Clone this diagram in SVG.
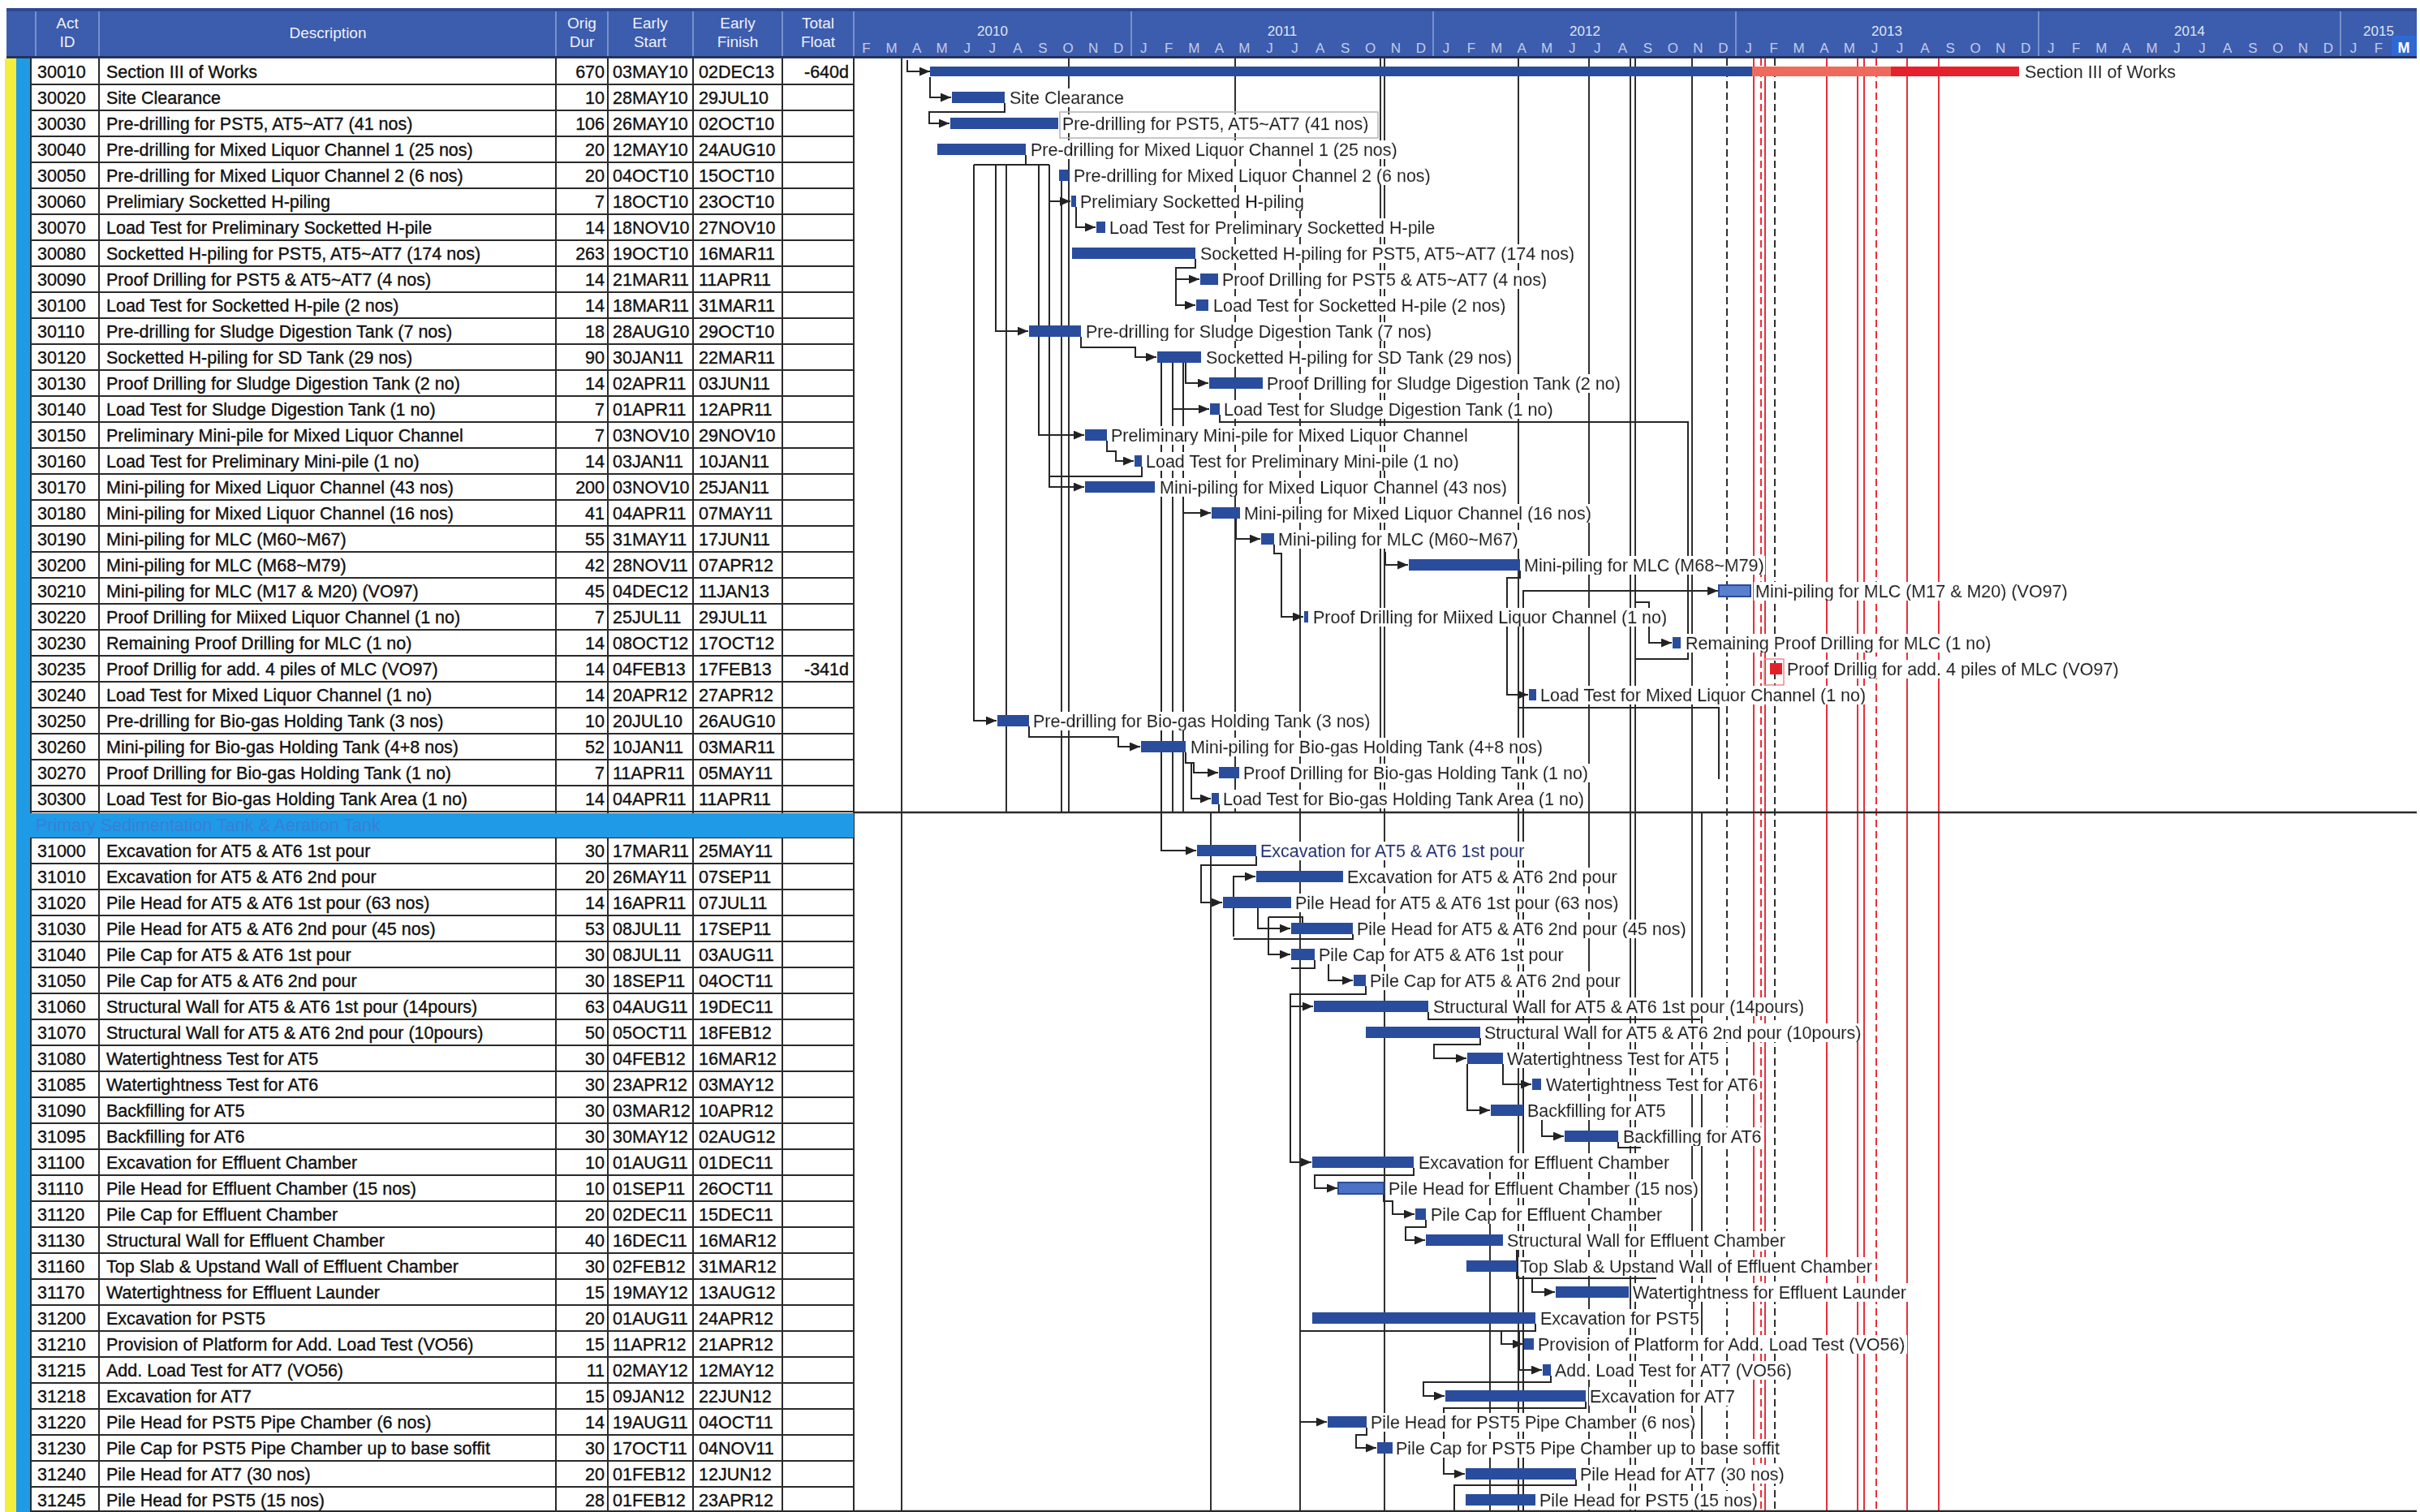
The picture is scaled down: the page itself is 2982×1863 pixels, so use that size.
<svg xmlns="http://www.w3.org/2000/svg" width="2982" height="1863" viewBox="0 0 2982 1863">
<style>
.t{font-family:"Liberation Sans",Arial,sans-serif;font-size:21.5px;fill:#101010;stroke:#101010;stroke-width:0.35px}
.e{text-anchor:end}
.lb{font-family:"Liberation Sans",Arial,sans-serif;font-size:21.5px;fill:#1a1a1a;stroke:#1a1a1a;stroke-width:0.35px;filter:url(#wb)}
.bar{fill:#2a4c9c}
.ln{stroke:#262626;stroke-width:2;fill:none}
.cn{stroke:#262626;stroke-width:2;fill:none;marker-end:url(#ah)}
.vl{stroke:#303030;stroke-width:2}
.vd{stroke:#303030;stroke-width:2;stroke-dasharray:9 5}
.rl{stroke:#e8303a;stroke-width:2}
.rd{stroke:#e8303a;stroke-width:2;stroke-dasharray:9 5}
.tl{stroke:#2a2a2a;stroke-width:2}
.hd{font-family:"Liberation Sans",Arial,sans-serif;font-size:19px;fill:#eef1fa;text-anchor:middle}
.yr{font-family:"Liberation Sans",Arial,sans-serif;font-size:17px;fill:#dfe5f5;text-anchor:middle}
.mo{font-family:"Liberation Sans",Arial,sans-serif;font-size:17px;fill:#c3cce8;text-anchor:middle}
.hs{stroke:#8ea2d6;stroke-width:1.5}
</style>
<defs>
<filter id="wb" x="-0.004" y="0.04" width="1.008" height="0.92"><feFlood flood-color="#ffffff"/><feComposite in="SourceGraphic" operator="over"/></filter>
<marker id="ah" viewBox="0 0 12 10" refX="12" refY="5" markerWidth="13" markerHeight="11" markerUnits="userSpaceOnUse" orient="auto"><path d="M0,0 L12,5 L0,10 z" fill="#222"/></marker>
</defs>
<rect x="0" y="0" width="2982" height="1863" fill="#ffffff"/>

<g id="header">
<rect x="8" y="10" width="2970" height="61" fill="#3c5cae"/>
<rect x="8" y="10" width="2970" height="4" fill="#2c4894"/>
<rect x="2947" y="44" width="31" height="27" fill="#2f68d2"/>
<line class="hs" x1="44" y1="14" x2="44" y2="70"/>
<line class="hs" x1="122" y1="14" x2="122" y2="70"/>
<line class="hs" x1="685" y1="14" x2="685" y2="70"/>
<line class="hs" x1="749" y1="14" x2="749" y2="70"/>
<line class="hs" x1="854" y1="14" x2="854" y2="70"/>
<line class="hs" x1="964" y1="14" x2="964" y2="70"/>
<line class="hs" x1="1052" y1="14" x2="1052" y2="70"/>
<line class="hs" x1="1394" y1="14" x2="1394" y2="70"/>
<line class="hs" x1="1766" y1="14" x2="1766" y2="70"/>
<line class="hs" x1="2139" y1="14" x2="2139" y2="70"/>
<line class="hs" x1="2512" y1="14" x2="2512" y2="70"/>
<line class="hs" x1="2884" y1="14" x2="2884" y2="70"/>
<text class="hd" x="83" y="35">Act</text><text class="hd" x="83" y="58">ID</text>
<text class="hd" x="404" y="47">Description</text>
<text class="hd" x="717" y="35">Orig</text><text class="hd" x="717" y="58">Dur</text>
<text class="hd" x="801" y="35">Early</text><text class="hd" x="801" y="58">Start</text>
<text class="hd" x="909" y="35">Early</text><text class="hd" x="909" y="58">Finish</text>
<text class="hd" x="1008" y="35">Total</text><text class="hd" x="1008" y="58">Float</text>
<text class="yr" x="1223" y="44">2010</text>
<text class="yr" x="1580" y="44">2011</text>
<text class="yr" x="1953" y="44">2012</text>
<text class="yr" x="2325" y="44">2013</text>
<text class="yr" x="2698" y="44">2014</text>
<text class="yr" x="2931" y="44">2015</text>
<text class="mo" y="65"><tspan x="1067.5">F</tspan><tspan x="1098.6">M</tspan><tspan x="1129.7">A</tspan><tspan x="1160.7">M</tspan><tspan x="1191.8">J</tspan><tspan x="1222.8">J</tspan><tspan x="1253.9">A</tspan><tspan x="1284.9">S</tspan><tspan x="1316">O</tspan><tspan x="1347.1">N</tspan><tspan x="1378.1">D</tspan><tspan x="1409.2">J</tspan><tspan x="1440.2">F</tspan><tspan x="1471.3">M</tspan><tspan x="1502.4">A</tspan><tspan x="1533.4">M</tspan><tspan x="1564.5">J</tspan><tspan x="1595.5">J</tspan><tspan x="1626.6">A</tspan><tspan x="1657.7">S</tspan><tspan x="1688.7">O</tspan><tspan x="1719.8">N</tspan><tspan x="1750.8">D</tspan><tspan x="1781.9">J</tspan><tspan x="1812.9">F</tspan><tspan x="1844">M</tspan><tspan x="1875.1">A</tspan><tspan x="1906.1">M</tspan><tspan x="1937.2">J</tspan><tspan x="1968.2">J</tspan><tspan x="1999.3">A</tspan><tspan x="2030.4">S</tspan><tspan x="2061.4">O</tspan><tspan x="2092.5">N</tspan><tspan x="2123.5">D</tspan><tspan x="2154.6">J</tspan><tspan x="2185.6">F</tspan><tspan x="2216.7">M</tspan><tspan x="2247.8">A</tspan><tspan x="2278.8">M</tspan><tspan x="2309.9">J</tspan><tspan x="2340.9">J</tspan><tspan x="2372">A</tspan><tspan x="2403.1">S</tspan><tspan x="2434.1">O</tspan><tspan x="2465.2">N</tspan><tspan x="2496.2">D</tspan><tspan x="2527.3">J</tspan><tspan x="2558.3">F</tspan><tspan x="2589.4">M</tspan><tspan x="2620.5">A</tspan><tspan x="2651.5">M</tspan><tspan x="2682.6">J</tspan><tspan x="2713.6">J</tspan><tspan x="2744.7">A</tspan><tspan x="2775.8">S</tspan><tspan x="2806.8">O</tspan><tspan x="2837.9">N</tspan><tspan x="2868.9">D</tspan><tspan x="2900">J</tspan><tspan x="2931">F</tspan></text>
<text x="2962" y="65" font-family="Liberation Sans, Arial, sans-serif" font-size="18" font-weight="bold" fill="#ffffff" text-anchor="middle">M</text>
<rect x="8" y="69" width="2970" height="3" fill="#22325e"/>
</g>

<g id="table-grid">
<rect x="6" y="72" width="14" height="1791" fill="#f4ee3c"/>
<rect x="20" y="72" width="18" height="1791" fill="#1f9be6"/>
<path class="tl" d="M38,104H1052M38,136H1052M38,168H1052M38,200H1052M38,232H1052M38,264H1052M38,296H1052M38,328H1052M38,360H1052M38,392H1052M38,424H1052M38,456H1052M38,488H1052M38,520H1052M38,552H1052M38,584H1052M38,616H1052M38,648H1052M38,680H1052M38,712H1052M38,744H1052M38,776H1052M38,808H1052M38,840H1052M38,872H1052M38,904H1052M38,936H1052M38,968H1052M38,1000H1052M38,1032H1052M38,1064H1052M38,1096H1052M38,1128H1052M38,1160H1052M38,1192H1052M38,1224H1052M38,1256H1052M38,1288H1052M38,1320H1052M38,1352H1052M38,1384H1052M38,1416H1052M38,1448H1052M38,1480H1052M38,1512H1052M38,1544H1052M38,1576H1052M38,1608H1052M38,1640H1052M38,1672H1052M38,1704H1052M38,1736H1052M38,1768H1052M38,1800H1052M38,1832H1052M38,1862H1052"/>
<path class="tl" d="M38,72V1863M122,72V1863M685,72V1863M749,72V1863M854,72V1863M964,72V1863M1052,72V1863"/>
</g>

<g id="timeline-lines">
<line class="vl" x1="1111" y1="72" x2="1111" y2="1863"/>
<line class="vl" x1="1240" y1="203" x2="1240" y2="1001"/>
<line class="vl" x1="1308" y1="223" x2="1308" y2="1001"/>
<line class="vl" x1="1317" y1="72" x2="1317" y2="1001"/>
<line class="vl" x1="1445" y1="504" x2="1445" y2="1001"/>
<line class="vl" x1="1458" y1="632" x2="1458" y2="1001"/>
<line class="vl" x1="1492" y1="1001" x2="1492" y2="1863"/>
<line class="vl" x1="1522" y1="72" x2="1522" y2="1001"/>
<line class="vl" x1="1602" y1="190" x2="1602" y2="1863"/>
<line class="vl" x1="1701" y1="72" x2="1701" y2="1001"/>
<line class="vl" x1="1706" y1="72" x2="1706" y2="1863"/>
<line class="vl" x1="1836" y1="1440" x2="1836" y2="1863"/>
<line class="vl" x1="1871" y1="72" x2="1871" y2="1863"/>
<line class="vl" x1="1958" y1="72" x2="1958" y2="1863"/>
<line class="vl" x1="2009" y1="72" x2="2009" y2="1863"/>
<line class="vl" x1="2015" y1="72" x2="2015" y2="1863"/>
<line class="vl" x1="2085" y1="72" x2="2085" y2="1863"/>
<line class="vl" x1="2097" y1="1001" x2="2097" y2="1863"/>
<line class="vd" x1="2128" y1="72" x2="2128" y2="1863"/>
<line class="vd" x1="2187" y1="72" x2="2187" y2="1863"/>
<line class="rl" x1="2161" y1="72" x2="2161" y2="1863" stroke-width="4"/>
<line class="rd" x1="2170" y1="72" x2="2170" y2="1863"/>
<line class="rl" x1="2175" y1="72" x2="2175" y2="1863"/>
<line class="rl" x1="2251" y1="72" x2="2251" y2="1863"/>
<line class="rl" x1="2289" y1="72" x2="2289" y2="1863" stroke="#f08a92"/>
<line class="rl" x1="2297" y1="72" x2="2297" y2="1863"/>
<line class="rd" x1="2312" y1="72" x2="2312" y2="1863"/>
<line class="rl" x1="2350" y1="72" x2="2350" y2="1863"/>
<line class="rl" x1="2389" y1="72" x2="2389" y2="1863"/>
<line x1="1052" y1="1001" x2="2978" y2="1001" stroke="#2a2a2a" stroke-width="2.5"/>
<line x1="1052" y1="1862" x2="2978" y2="1862" stroke="#2a2a2a" stroke-width="2.5"/>
</g>

<g id="connectors">
<path class="cn" d="M1118,74V88H1146"/>
<path class="cn" d="M1146,95V120H1172"/>
<path class="cn" d="M1238,127V138H1145V152H1170"/>
<path class="ln" d="M1264,191V203M1200,203H1293"/>
<path class="cn" d="M1200,203V888H1228"/>
<path class="cn" d="M1227,203V408H1267"/>
<path class="cn" d="M1280,203V536H1336"/>
<path class="cn" d="M1293,203V600H1336"/>
<path class="cn" d="M1293,248H1319"/>
<path class="cn" d="M1326,255V280H1350"/>
<path class="cn" d="M1473,319V330H1449V344H1478"/>
<path class="cn" d="M1449,344V376H1473"/>
<path class="cn" d="M1332,415V428H1399V440H1425"/>
<path class="cn" d="M1461,447V472H1489"/>
<path class="cn" d="M1445,447V504H1490"/>
<path class="cn" d="M1431,447V1048H1474"/>
<path class="cn" d="M1458,447V632H1492"/>
<path class="cn" d="M1364,543V556H1375V568H1397"/>
<path class="ln" d="M1407,575V587H1293"/>
<path class="cn" d="M1523,639V664H1553"/>
<path class="cn" d="M1707,680V696H1735"/>
<path class="cn" d="M1570,671V682H1579V760H1606"/>
<path class="cn" d="M1873,703V712H1857V856H1883"/>
<path class="cn" d="M1877,1863V728H2117"/>
<path class="cn" d="M2015,742H2032V792H2060"/>
<path class="ln" d="M1503,511V520H2080V812H2016"/>
<path class="ln" d="M1870,872H2118V960"/>
<path class="cn" d="M1268,895V908H1378V920H1405"/>
<path class="cn" d="M1461,927V940H1471V952H1501"/>
<path class="cn" d="M1468,940V984H1492"/>
<path class="ln" d="M1502,991V1001"/>
<path class="cn" d="M1520,1154V1080H1547"/>
<path class="cn" d="M1548,1055V1066H1480V1112H1506"/>
<path class="cn" d="M1550,1119V1144H1590"/>
<path class="cn" d="M1563,1130V1176H1590"/>
<path class="ln" d="M1563,1130H1605V1144"/>
<path class="ln" d="M1667,1151V1157H1520"/>
<path class="ln" d="M1620,1183V1193H1591"/>
<path class="cn" d="M1637,1185V1208H1667"/>
<path class="cn" d="M1683,1215V1225H1590V1432H1616"/>
<path class="cn" d="M1590,1240H1618"/>
<path class="ln" d="M1760,1247V1256H2095"/>
<path class="cn" d="M1824,1279V1287H1767V1304H1807"/>
<path class="cn" d="M1852,1311V1336H1887"/>
<path class="cn" d="M1808,1311V1368H1836"/>
<path class="cn" d="M1900,1377V1400H1927"/>
<path class="ln" d="M1994,1407V1414H2022"/>
<path class="cn" d="M1742,1439V1448H1620V1464H1648"/>
<path class="cn" d="M1705,1471V1480H1716V1496H1743"/>
<path class="cn" d="M1757,1503V1512H1732V1528H1756"/>
<path class="ln" d="M1869,1535V1575H2041"/>
<path class="cn" d="M1888,1575V1592H1916"/>
<path class="ln" d="M1892,1631V1640H1602"/>
<path class="cn" d="M1850,1640V1656H1877"/>
<path class="cn" d="M1872,1640V1688H1900"/>
<path class="cn" d="M1911,1695V1703H1754V1720H1780"/>
<path class="cn" d="M1954,1727V1735H1779V1816H1805"/>
<path class="cn" d="M1602,1752H1635"/>
<path class="cn" d="M1684,1759V1768H1671V1784H1696"/>
<path class="ln" d="M1942,1823V1830H1792V1863"/>
</g>

<g id="section-band">
<rect x="20" y="1002" width="1032" height="30" fill="#1e9ae6"/>
<text x="44" y="1024" font-family="Liberation Sans, Arial, sans-serif" font-size="21.5" fill="#3a7fd6">Primary Sedimentation Tank &amp; Aeration Tank</text>
</g>

<g id="a30010" transform="translate(0,88)"><text class="t" x="46" y="7.5">30010</text><text class="t" x="131" y="7.5">Section III of Works</text><text class="t e" x="745" y="7.5">670</text><text class="t" x="755" y="7.5">03MAY10</text><text class="t" x="861" y="7.5">02DEC13</text><text class="t e" x="1046" y="7.5">-640d</text><rect class="bar" x="1146" y="-6" width="1013" height="12"/><rect x="2159" y="-6" width="171" height="12" fill="#ef6a5c"/><rect x="2330" y="-6" width="158" height="12" fill="#e6202c"/><text class="lb" x="2495" y="7.5">Section III of Works</text></g>
<g id="a30020" transform="translate(0,120)"><text class="t" x="46" y="7.5">30020</text><text class="t" x="131" y="7.5">Site Clearance</text><text class="t e" x="745" y="7.5">10</text><text class="t" x="755" y="7.5">28MAY10</text><text class="t" x="861" y="7.5">29JUL10</text><rect class="bar" x="1173" y="-7" width="65" height="14"/><text class="lb" x="1244" y="7.5">Site Clearance</text></g>
<g id="a30030" transform="translate(0,152)"><text class="t" x="46" y="7.5">30030</text><text class="t" x="131" y="7.5">Pre-drilling for PST5, AT5~AT7 (41 nos)</text><text class="t e" x="745" y="7.5">106</text><text class="t" x="755" y="7.5">26MAY10</text><text class="t" x="861" y="7.5">02OCT10</text><rect class="bar" x="1171" y="-7" width="133" height="14"/><text class="lb" x="1309" y="7.5">Pre-drilling for PST5, AT5~AT7 (41 nos)</text><rect x="1306" y="-14" width="392" height="32" fill="none" stroke="#b4b4b4" stroke-width="1.5"/></g>
<g id="a30040" transform="translate(0,184)"><text class="t" x="46" y="7.5">30040</text><text class="t" x="131" y="7.5">Pre-drilling for Mixed Liquor Channel 1 (25 nos)</text><text class="t e" x="745" y="7.5">20</text><text class="t" x="755" y="7.5">12MAY10</text><text class="t" x="861" y="7.5">24AUG10</text><rect class="bar" x="1155" y="-7" width="109" height="14"/><text class="lb" x="1270" y="7.5">Pre-drilling for Mixed Liquor Channel 1 (25 nos)</text></g>
<g id="a30050" transform="translate(0,216)"><text class="t" x="46" y="7.5">30050</text><text class="t" x="131" y="7.5">Pre-drilling for Mixed Liquor Channel 2 (6 nos)</text><text class="t e" x="745" y="7.5">20</text><text class="t" x="755" y="7.5">04OCT10</text><text class="t" x="861" y="7.5">15OCT10</text><rect class="bar" x="1305" y="-7" width="12" height="14"/><text class="lb" x="1323" y="7.5">Pre-drilling for Mixed Liquor Channel 2 (6 nos)</text></g>
<g id="a30060" transform="translate(0,248)"><text class="t" x="46" y="7.5">30060</text><text class="t" x="131" y="7.5">Prelimiary Socketted H-piling</text><text class="t e" x="745" y="7.5">7</text><text class="t" x="755" y="7.5">18OCT10</text><text class="t" x="861" y="7.5">23OCT10</text><rect class="bar" x="1320" y="-7" width="6" height="14"/><text class="lb" x="1331" y="7.5">Prelimiary Socketted H-piling</text></g>
<g id="a30070" transform="translate(0,280)"><text class="t" x="46" y="7.5">30070</text><text class="t" x="131" y="7.5">Load Test for Preliminary Socketted H-pile</text><text class="t e" x="745" y="7.5">14</text><text class="t" x="755" y="7.5">18NOV10</text><text class="t" x="861" y="7.5">27NOV10</text><rect class="bar" x="1351" y="-7" width="11" height="14"/><text class="lb" x="1367" y="7.5">Load Test for Preliminary Socketted H-pile</text></g>
<g id="a30080" transform="translate(0,312)"><text class="t" x="46" y="7.5">30080</text><text class="t" x="131" y="7.5">Socketted H-piling for PST5, AT5~AT7 (174 nos)</text><text class="t e" x="745" y="7.5">263</text><text class="t" x="755" y="7.5">19OCT10</text><text class="t" x="861" y="7.5">16MAR11</text><rect class="bar" x="1321" y="-7" width="152" height="14"/><text class="lb" x="1479" y="7.5">Socketted H-piling for PST5, AT5~AT7 (174 nos)</text></g>
<g id="a30090" transform="translate(0,344)"><text class="t" x="46" y="7.5">30090</text><text class="t" x="131" y="7.5">Proof Drilling for PST5 &amp; AT5~AT7 (4 nos)</text><text class="t e" x="745" y="7.5">14</text><text class="t" x="755" y="7.5">21MAR11</text><text class="t" x="861" y="7.5">11APR11</text><rect class="bar" x="1479" y="-7" width="22" height="14"/><text class="lb" x="1506" y="7.5">Proof Drilling for PST5 &amp; AT5~AT7 (4 nos)</text></g>
<g id="a30100" transform="translate(0,376)"><text class="t" x="46" y="7.5">30100</text><text class="t" x="131" y="7.5">Load Test for Socketted H-pile (2 nos)</text><text class="t e" x="745" y="7.5">14</text><text class="t" x="755" y="7.5">18MAR11</text><text class="t" x="861" y="7.5">31MAR11</text><rect class="bar" x="1474" y="-7" width="15" height="14"/><text class="lb" x="1495" y="7.5">Load Test for Socketted H-pile (2 nos)</text></g>
<g id="a30110" transform="translate(0,408)"><text class="t" x="46" y="7.5">30110</text><text class="t" x="131" y="7.5">Pre-drilling for Sludge Digestion Tank (7 nos)</text><text class="t e" x="745" y="7.5">18</text><text class="t" x="755" y="7.5">28AUG10</text><text class="t" x="861" y="7.5">29OCT10</text><rect class="bar" x="1268" y="-7" width="64" height="14"/><text class="lb" x="1338" y="7.5">Pre-drilling for Sludge Digestion Tank (7 nos)</text></g>
<g id="a30120" transform="translate(0,440)"><text class="t" x="46" y="7.5">30120</text><text class="t" x="131" y="7.5">Socketted H-piling for SD Tank (29 nos)</text><text class="t e" x="745" y="7.5">90</text><text class="t" x="755" y="7.5">30JAN11</text><text class="t" x="861" y="7.5">22MAR11</text><rect class="bar" x="1426" y="-7" width="54" height="14"/><text class="lb" x="1486" y="7.5">Socketted H-piling for SD Tank (29 nos)</text></g>
<g id="a30130" transform="translate(0,472)"><text class="t" x="46" y="7.5">30130</text><text class="t" x="131" y="7.5">Proof Drilling for Sludge Digestion Tank (2 no)</text><text class="t e" x="745" y="7.5">14</text><text class="t" x="755" y="7.5">02APR11</text><text class="t" x="861" y="7.5">03JUN11</text><rect class="bar" x="1490" y="-7" width="66" height="14"/><text class="lb" x="1561" y="7.5">Proof Drilling for Sludge Digestion Tank (2 no)</text></g>
<g id="a30140" transform="translate(0,504)"><text class="t" x="46" y="7.5">30140</text><text class="t" x="131" y="7.5">Load Test for Sludge Digestion Tank (1 no)</text><text class="t e" x="745" y="7.5">7</text><text class="t" x="755" y="7.5">01APR11</text><text class="t" x="861" y="7.5">12APR11</text><rect class="bar" x="1491" y="-7" width="12" height="14"/><text class="lb" x="1508" y="7.5">Load Test for Sludge Digestion Tank (1 no)</text></g>
<g id="a30150" transform="translate(0,536)"><text class="t" x="46" y="7.5">30150</text><text class="t" x="131" y="7.5">Preliminary Mini-pile for Mixed Liquor Channel</text><text class="t e" x="745" y="7.5">7</text><text class="t" x="755" y="7.5">03NOV10</text><text class="t" x="861" y="7.5">29NOV10</text><rect class="bar" x="1337" y="-7" width="27" height="14"/><text class="lb" x="1369" y="7.5">Preliminary Mini-pile for Mixed Liquor Channel</text></g>
<g id="a30160" transform="translate(0,568)"><text class="t" x="46" y="7.5">30160</text><text class="t" x="131" y="7.5">Load Test for Preliminary Mini-pile (1 no)</text><text class="t e" x="745" y="7.5">14</text><text class="t" x="755" y="7.5">03JAN11</text><text class="t" x="861" y="7.5">10JAN11</text><rect class="bar" x="1398" y="-7" width="9" height="14"/><text class="lb" x="1412" y="7.5">Load Test for Preliminary Mini-pile (1 no)</text></g>
<g id="a30170" transform="translate(0,600)"><text class="t" x="46" y="7.5">30170</text><text class="t" x="131" y="7.5">Mini-piling for Mixed Liquor Channel (43 nos)</text><text class="t e" x="745" y="7.5">200</text><text class="t" x="755" y="7.5">03NOV10</text><text class="t" x="861" y="7.5">25JAN11</text><rect class="bar" x="1337" y="-7" width="86" height="14"/><text class="lb" x="1429" y="7.5">Mini-piling for Mixed Liquor Channel (43 nos)</text></g>
<g id="a30180" transform="translate(0,632)"><text class="t" x="46" y="7.5">30180</text><text class="t" x="131" y="7.5">Mini-piling for Mixed Liquor Channel (16 nos)</text><text class="t e" x="745" y="7.5">41</text><text class="t" x="755" y="7.5">04APR11</text><text class="t" x="861" y="7.5">07MAY11</text><rect class="bar" x="1493" y="-7" width="35" height="14"/><text class="lb" x="1533" y="7.5">Mini-piling for Mixed Liquor Channel (16 nos)</text></g>
<g id="a30190" transform="translate(0,664)"><text class="t" x="46" y="7.5">30190</text><text class="t" x="131" y="7.5">Mini-piling for MLC (M60~M67)</text><text class="t e" x="745" y="7.5">55</text><text class="t" x="755" y="7.5">31MAY11</text><text class="t" x="861" y="7.5">17JUN11</text><rect class="bar" x="1554" y="-7" width="16" height="14"/><text class="lb" x="1575" y="7.5">Mini-piling for MLC (M60~M67)</text></g>
<g id="a30200" transform="translate(0,696)"><text class="t" x="46" y="7.5">30200</text><text class="t" x="131" y="7.5">Mini-piling for MLC (M68~M79)</text><text class="t e" x="745" y="7.5">42</text><text class="t" x="755" y="7.5">28NOV11</text><text class="t" x="861" y="7.5">07APR12</text><rect class="bar" x="1736" y="-7" width="137" height="14"/><text class="lb" x="1878" y="7.5">Mini-piling for MLC (M68~M79)</text></g>
<g id="a30210" transform="translate(0,728)"><text class="t" x="46" y="7.5">30210</text><text class="t" x="131" y="7.5">Mini-piling for MLC (M17 &amp; M20) (VO97)</text><text class="t e" x="745" y="7.5">45</text><text class="t" x="755" y="7.5">04DEC12</text><text class="t" x="861" y="7.5">11JAN13</text><rect x="2118" y="-7" width="39" height="14" fill="#5a7fcc" stroke="#2a4c9c" stroke-width="2"/><text class="lb" x="2163" y="7.5">Mini-piling for MLC (M17 &amp; M20) (VO97)</text></g>
<g id="a30220" transform="translate(0,760)"><text class="t" x="46" y="7.5">30220</text><text class="t" x="131" y="7.5">Proof Drilling for Miixed Liquor Channel (1 no)</text><text class="t e" x="745" y="7.5">7</text><text class="t" x="755" y="7.5">25JUL11</text><text class="t" x="861" y="7.5">29JUL11</text><rect class="bar" x="1607" y="-7" width="5" height="14"/><text class="lb" x="1618" y="7.5">Proof Drilling for Miixed Liquor Channel (1 no)</text></g>
<g id="a30230" transform="translate(0,792)"><text class="t" x="46" y="7.5">30230</text><text class="t" x="131" y="7.5">Remaining Proof Drilling for MLC (1 no)</text><text class="t e" x="745" y="7.5">14</text><text class="t" x="755" y="7.5">08OCT12</text><text class="t" x="861" y="7.5">17OCT12</text><rect class="bar" x="2061" y="-7" width="10" height="14"/><text class="lb" x="2077" y="7.5">Remaining Proof Drilling for MLC (1 no)</text></g>
<g id="a30235" transform="translate(0,824)"><text class="t" x="46" y="7.5">30235</text><text class="t" x="131" y="7.5">Proof Drillig for add. 4 piles of MLC (VO97)</text><text class="t e" x="745" y="7.5">14</text><text class="t" x="755" y="7.5">04FEB13</text><text class="t" x="861" y="7.5">17FEB13</text><text class="t e" x="1046" y="7.5">-341d</text><rect x="2174" y="-12" width="24" height="32" fill="none" stroke="#f08a8a" stroke-width="1.5"/><rect x="2181" y="-7" width="15" height="14" fill="#e3202a"/><text class="lb" x="2202" y="7.5">Proof Drillig for add. 4 piles of MLC (VO97)</text></g>
<g id="a30240" transform="translate(0,856)"><text class="t" x="46" y="7.5">30240</text><text class="t" x="131" y="7.5">Load Test for Mixed Liquor Channel (1 no)</text><text class="t e" x="745" y="7.5">14</text><text class="t" x="755" y="7.5">20APR12</text><text class="t" x="861" y="7.5">27APR12</text><rect class="bar" x="1884" y="-7" width="9" height="14"/><text class="lb" x="1898" y="7.5">Load Test for Mixed Liquor Channel (1 no)</text></g>
<g id="a30250" transform="translate(0,888)"><text class="t" x="46" y="7.5">30250</text><text class="t" x="131" y="7.5">Pre-drilling for Bio-gas Holding Tank (3 nos)</text><text class="t e" x="745" y="7.5">10</text><text class="t" x="755" y="7.5">20JUL10</text><text class="t" x="861" y="7.5">26AUG10</text><rect class="bar" x="1229" y="-7" width="39" height="14"/><text class="lb" x="1273" y="7.5">Pre-drilling for Bio-gas Holding Tank (3 nos)</text></g>
<g id="a30260" transform="translate(0,920)"><text class="t" x="46" y="7.5">30260</text><text class="t" x="131" y="7.5">Mini-piling for Bio-gas Holding Tank (4+8 nos)</text><text class="t e" x="745" y="7.5">52</text><text class="t" x="755" y="7.5">10JAN11</text><text class="t" x="861" y="7.5">03MAR11</text><rect class="bar" x="1406" y="-7" width="55" height="14"/><text class="lb" x="1467" y="7.5">Mini-piling for Bio-gas Holding Tank (4+8 nos)</text></g>
<g id="a30270" transform="translate(0,952)"><text class="t" x="46" y="7.5">30270</text><text class="t" x="131" y="7.5">Proof Drilling for Bio-gas Holding Tank (1 no)</text><text class="t e" x="745" y="7.5">7</text><text class="t" x="755" y="7.5">11APR11</text><text class="t" x="861" y="7.5">05MAY11</text><rect class="bar" x="1502" y="-7" width="25" height="14"/><text class="lb" x="1532" y="7.5">Proof Drilling for Bio-gas Holding Tank (1 no)</text></g>
<g id="a30300" transform="translate(0,984)"><text class="t" x="46" y="7.5">30300</text><text class="t" x="131" y="7.5">Load Test for Bio-gas Holding Tank Area (1 no)</text><text class="t e" x="745" y="7.5">14</text><text class="t" x="755" y="7.5">04APR11</text><text class="t" x="861" y="7.5">11APR11</text><rect class="bar" x="1493" y="-7" width="9" height="14"/><text class="lb" x="1507" y="7.5">Load Test for Bio-gas Holding Tank Area (1 no)</text></g>

<g id="a31000" transform="translate(0,1048)"><text class="t" x="46" y="7.5">31000</text><text class="t" x="131" y="7.5">Excavation for AT5 &amp; AT6 1st pour</text><text class="t e" x="745" y="7.5">30</text><text class="t" x="755" y="7.5">17MAR11</text><text class="t" x="861" y="7.5">25MAY11</text><rect class="bar" x="1475" y="-7" width="73" height="14"/><text class="lb" x="1553" y="7.5" style="fill:#1c2f7a;stroke:#1c2f7a">Excavation for AT5 &amp; AT6 1st pour</text></g>
<g id="a31010" transform="translate(0,1080)"><text class="t" x="46" y="7.5">31010</text><text class="t" x="131" y="7.5">Excavation for AT5 &amp; AT6 2nd pour</text><text class="t e" x="745" y="7.5">20</text><text class="t" x="755" y="7.5">26MAY11</text><text class="t" x="861" y="7.5">07SEP11</text><rect class="bar" x="1548" y="-7" width="107" height="14"/><text class="lb" x="1660" y="7.5">Excavation for AT5 &amp; AT6 2nd pour</text></g>
<g id="a31020" transform="translate(0,1112)"><text class="t" x="46" y="7.5">31020</text><text class="t" x="131" y="7.5">Pile Head for AT5 &amp; AT6 1st pour (63 nos)</text><text class="t e" x="745" y="7.5">14</text><text class="t" x="755" y="7.5">16APR11</text><text class="t" x="861" y="7.5">07JUL11</text><rect class="bar" x="1507" y="-7" width="84" height="14"/><text class="lb" x="1596" y="7.5">Pile Head for AT5 &amp; AT6 1st pour (63 nos)</text></g>
<g id="a31030" transform="translate(0,1144)"><text class="t" x="46" y="7.5">31030</text><text class="t" x="131" y="7.5">Pile Head for AT5 &amp; AT6 2nd pour (45 nos)</text><text class="t e" x="745" y="7.5">53</text><text class="t" x="755" y="7.5">08JUL11</text><text class="t" x="861" y="7.5">17SEP11</text><rect class="bar" x="1591" y="-7" width="76" height="14"/><text class="lb" x="1672" y="7.5">Pile Head for AT5 &amp; AT6 2nd pour (45 nos)</text></g>
<g id="a31040" transform="translate(0,1176)"><text class="t" x="46" y="7.5">31040</text><text class="t" x="131" y="7.5">Pile Cap for AT5 &amp; AT6 1st pour</text><text class="t e" x="745" y="7.5">30</text><text class="t" x="755" y="7.5">08JUL11</text><text class="t" x="861" y="7.5">03AUG11</text><rect class="bar" x="1591" y="-7" width="29" height="14"/><text class="lb" x="1625" y="7.5">Pile Cap for AT5 &amp; AT6 1st pour</text></g>
<g id="a31050" transform="translate(0,1208)"><text class="t" x="46" y="7.5">31050</text><text class="t" x="131" y="7.5">Pile Cap for AT5 &amp; AT6 2nd pour</text><text class="t e" x="745" y="7.5">30</text><text class="t" x="755" y="7.5">18SEP11</text><text class="t" x="861" y="7.5">04OCT11</text><rect class="bar" x="1668" y="-7" width="15" height="14"/><text class="lb" x="1688" y="7.5">Pile Cap for AT5 &amp; AT6 2nd pour</text></g>
<g id="a31060" transform="translate(0,1240)"><text class="t" x="46" y="7.5">31060</text><text class="t" x="131" y="7.5">Structural Wall for AT5 &amp; AT6 1st pour (14pours)</text><text class="t e" x="745" y="7.5">63</text><text class="t" x="755" y="7.5">04AUG11</text><text class="t" x="861" y="7.5">19DEC11</text><rect class="bar" x="1619" y="-7" width="141" height="14"/><text class="lb" x="1766" y="7.5">Structural Wall for AT5 &amp; AT6 1st pour (14pours)</text></g>
<g id="a31070" transform="translate(0,1272)"><text class="t" x="46" y="7.5">31070</text><text class="t" x="131" y="7.5">Structural Wall for AT5 &amp; AT6 2nd pour (10pours)</text><text class="t e" x="745" y="7.5">50</text><text class="t" x="755" y="7.5">05OCT11</text><text class="t" x="861" y="7.5">18FEB12</text><rect class="bar" x="1683" y="-7" width="141" height="14"/><text class="lb" x="1829" y="7.5">Structural Wall for AT5 &amp; AT6 2nd pour (10pours)</text></g>
<g id="a31080" transform="translate(0,1304)"><text class="t" x="46" y="7.5">31080</text><text class="t" x="131" y="7.5">Watertightness Test for AT5</text><text class="t e" x="745" y="7.5">30</text><text class="t" x="755" y="7.5">04FEB12</text><text class="t" x="861" y="7.5">16MAR12</text><rect class="bar" x="1808" y="-7" width="44" height="14"/><text class="lb" x="1857" y="7.5">Watertightness Test for AT5</text></g>
<g id="a31085" transform="translate(0,1336)"><text class="t" x="46" y="7.5">31085</text><text class="t" x="131" y="7.5">Watertightness Test for AT6</text><text class="t e" x="745" y="7.5">30</text><text class="t" x="755" y="7.5">23APR12</text><text class="t" x="861" y="7.5">03MAY12</text><rect class="bar" x="1888" y="-7" width="11" height="14"/><text class="lb" x="1905" y="7.5">Watertightness Test for AT6</text></g>
<g id="a31090" transform="translate(0,1368)"><text class="t" x="46" y="7.5">31090</text><text class="t" x="131" y="7.5">Backfilling for AT5</text><text class="t e" x="745" y="7.5">30</text><text class="t" x="755" y="7.5">03MAR12</text><text class="t" x="861" y="7.5">10APR12</text><rect class="bar" x="1837" y="-7" width="40" height="14"/><text class="lb" x="1882" y="7.5">Backfilling for AT5</text></g>
<g id="a31095" transform="translate(0,1400)"><text class="t" x="46" y="7.5">31095</text><text class="t" x="131" y="7.5">Backfilling for AT6</text><text class="t e" x="745" y="7.5">30</text><text class="t" x="755" y="7.5">30MAY12</text><text class="t" x="861" y="7.5">02AUG12</text><rect class="bar" x="1928" y="-7" width="66" height="14"/><text class="lb" x="2000" y="7.5">Backfilling for AT6</text></g>
<g id="a31100" transform="translate(0,1432)"><text class="t" x="46" y="7.5">31100</text><text class="t" x="131" y="7.5">Excavation for Effluent Chamber</text><text class="t e" x="745" y="7.5">10</text><text class="t" x="755" y="7.5">01AUG11</text><text class="t" x="861" y="7.5">01DEC11</text><rect class="bar" x="1617" y="-7" width="125" height="14"/><text class="lb" x="1748" y="7.5">Excavation for Effluent Chamber</text></g>
<g id="a31110" transform="translate(0,1464)"><text class="t" x="46" y="7.5">31110</text><text class="t" x="131" y="7.5">Pile Head for Effluent Chamber (15 nos)</text><text class="t e" x="745" y="7.5">10</text><text class="t" x="755" y="7.5">01SEP11</text><text class="t" x="861" y="7.5">26OCT11</text><rect x="1649" y="-7" width="56" height="14" fill="#4d72c4" stroke="#2a4c9c" stroke-width="2"/><text class="lb" x="1711" y="7.5">Pile Head for Effluent Chamber (15 nos)</text></g>
<g id="a31120" transform="translate(0,1496)"><text class="t" x="46" y="7.5">31120</text><text class="t" x="131" y="7.5">Pile Cap for Effluent Chamber</text><text class="t e" x="745" y="7.5">20</text><text class="t" x="755" y="7.5">02DEC11</text><text class="t" x="861" y="7.5">15DEC11</text><rect class="bar" x="1744" y="-7" width="13" height="14"/><text class="lb" x="1763" y="7.5">Pile Cap for Effluent Chamber</text></g>
<g id="a31130" transform="translate(0,1528)"><text class="t" x="46" y="7.5">31130</text><text class="t" x="131" y="7.5">Structural Wall for Effluent Chamber</text><text class="t e" x="745" y="7.5">40</text><text class="t" x="755" y="7.5">16DEC11</text><text class="t" x="861" y="7.5">16MAR12</text><rect class="bar" x="1757" y="-7" width="95" height="14"/><text class="lb" x="1857" y="7.5">Structural Wall for Effluent Chamber</text></g>
<g id="a31160" transform="translate(0,1560)"><text class="t" x="46" y="7.5">31160</text><text class="t" x="131" y="7.5">Top Slab &amp; Upstand Wall of Effluent Chamber</text><text class="t e" x="745" y="7.5">30</text><text class="t" x="755" y="7.5">02FEB12</text><text class="t" x="861" y="7.5">31MAR12</text><rect class="bar" x="1807" y="-7" width="62" height="14"/><text class="lb" x="1873" y="7.5">Top Slab &amp; Upstand Wall of Effluent Chamber</text></g>
<g id="a31170" transform="translate(0,1592)"><text class="t" x="46" y="7.5">31170</text><text class="t" x="131" y="7.5">Watertightness for Effluent Launder</text><text class="t e" x="745" y="7.5">15</text><text class="t" x="755" y="7.5">19MAY12</text><text class="t" x="861" y="7.5">13AUG12</text><rect class="bar" x="1917" y="-7" width="90" height="14"/><text class="lb" x="2012" y="7.5">Watertightness for Effluent Launder</text></g>
<g id="a31200" transform="translate(0,1624)"><text class="t" x="46" y="7.5">31200</text><text class="t" x="131" y="7.5">Excavation for PST5</text><text class="t e" x="745" y="7.5">20</text><text class="t" x="755" y="7.5">01AUG11</text><text class="t" x="861" y="7.5">24APR12</text><rect class="bar" x="1617" y="-7" width="275" height="14"/><text class="lb" x="1898" y="7.5">Excavation for PST5</text></g>
<g id="a31210" transform="translate(0,1656)"><text class="t" x="46" y="7.5">31210</text><text class="t" x="131" y="7.5">Provision of Platform for Add. Load Test (VO56)</text><text class="t e" x="745" y="7.5">15</text><text class="t" x="755" y="7.5">11APR12</text><text class="t" x="861" y="7.5">21APR12</text><rect class="bar" x="1878" y="-7" width="12" height="14"/><text class="lb" x="1895" y="7.5">Provision of Platform for Add. Load Test (VO56)</text></g>
<g id="a31215" transform="translate(0,1688)"><text class="t" x="46" y="7.5">31215</text><text class="t" x="131" y="7.5">Add. Load Test for AT7 (VO56)</text><text class="t e" x="745" y="7.5">11</text><text class="t" x="755" y="7.5">02MAY12</text><text class="t" x="861" y="7.5">12MAY12</text><rect class="bar" x="1901" y="-7" width="10" height="14"/><text class="lb" x="1916" y="7.5">Add. Load Test for AT7 (VO56)</text></g>
<g id="a31218" transform="translate(0,1720)"><text class="t" x="46" y="7.5">31218</text><text class="t" x="131" y="7.5">Excavation for AT7</text><text class="t e" x="745" y="7.5">15</text><text class="t" x="755" y="7.5">09JAN12</text><text class="t" x="861" y="7.5">22JUN12</text><rect class="bar" x="1781" y="-7" width="173" height="14"/><text class="lb" x="1959" y="7.5">Excavation for AT7</text></g>
<g id="a31220" transform="translate(0,1752)"><text class="t" x="46" y="7.5">31220</text><text class="t" x="131" y="7.5">Pile Head for PST5 Pipe Chamber  (6 nos)</text><text class="t e" x="745" y="7.5">14</text><text class="t" x="755" y="7.5">19AUG11</text><text class="t" x="861" y="7.5">04OCT11</text><rect class="bar" x="1636" y="-7" width="48" height="14"/><text class="lb" x="1689" y="7.5">Pile Head for PST5 Pipe Chamber  (6 nos)</text></g>
<g id="a31230" transform="translate(0,1784)"><text class="t" x="46" y="7.5">31230</text><text class="t" x="131" y="7.5">Pile Cap for PST5 Pipe Chamber up to base soffit</text><text class="t e" x="745" y="7.5">30</text><text class="t" x="755" y="7.5">17OCT11</text><text class="t" x="861" y="7.5">04NOV11</text><rect class="bar" x="1697" y="-7" width="19" height="14"/><text class="lb" x="1720" y="7.5">Pile Cap for PST5 Pipe Chamber up to base soffit</text></g>
<g id="a31240" transform="translate(0,1816)"><text class="t" x="46" y="7.5">31240</text><text class="t" x="131" y="7.5">Pile Head for AT7 (30 nos)</text><text class="t e" x="745" y="7.5">20</text><text class="t" x="755" y="7.5">01FEB12</text><text class="t" x="861" y="7.5">12JUN12</text><rect class="bar" x="1806" y="-7" width="136" height="14"/><text class="lb" x="1947" y="7.5">Pile Head for AT7 (30 nos)</text></g>
<g id="a31245" transform="translate(0,1848)"><text class="t" x="46" y="7.5">31245</text><text class="t" x="131" y="7.5">Pile Head for PST5 (15 nos)</text><text class="t e" x="745" y="7.5">28</text><text class="t" x="755" y="7.5">01FEB12</text><text class="t" x="861" y="7.5">23APR12</text><rect class="bar" x="1806" y="-7" width="86" height="14"/><text class="lb" x="1897" y="7.5">Pile Head for PST5 (15 nos)</text></g>
</svg>
